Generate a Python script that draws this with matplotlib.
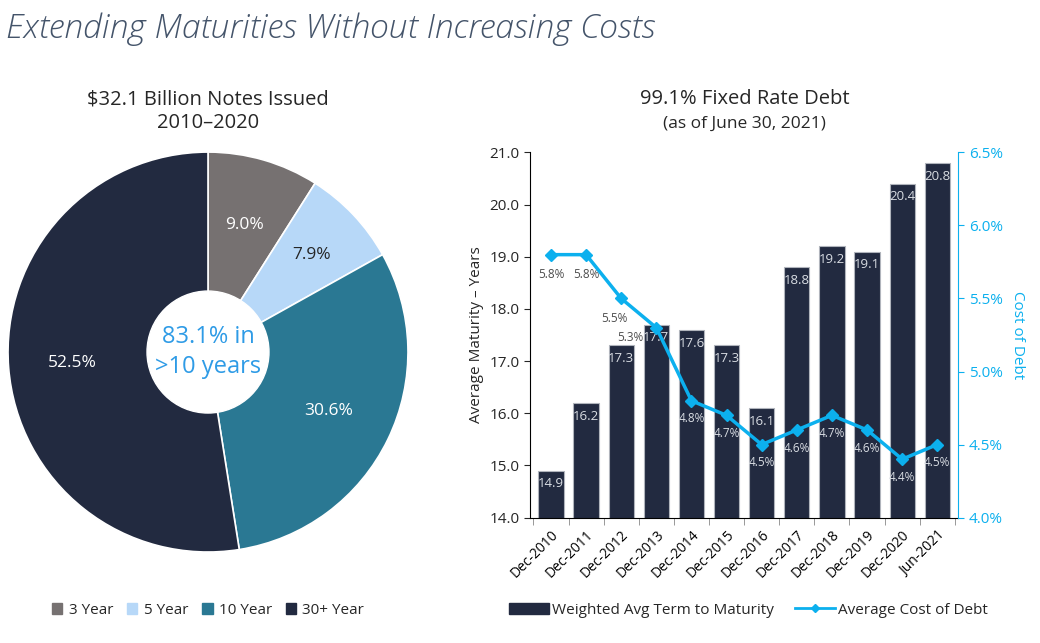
import numpy as np
import matplotlib.pyplot as plt
from matplotlib.patches import Patch, Circle
from matplotlib.lines import Line2D

# pie data
pie_labels = ["3 Year", "5 Year", "10 Year", "30+ Year"]
pie_values = [9.0, 7.9, 30.6, 52.5]
pie_colors = ["#767171", "#b7d8f8", "#2a7893", "#222a40"]

# bar / line data
periods = ["Dec-2010", "Dec-2011", "Dec-2012", "Dec-2013", "Dec-2014", "Dec-2015",
           "Dec-2016", "Dec-2017", "Dec-2018", "Dec-2019", "Dec-2020", "Jun-2021"]
avg_term = [14.9, 16.2, 17.3, 17.7, 17.6, 17.3, 16.1, 18.8, 19.2, 19.1, 20.4, 20.8]
cost_debt = [5.8, 5.8, 5.5, 5.3, 4.8, 4.7, 4.5, 4.6, 4.7, 4.6, 4.4, 4.5]

navy = "#222a40"
cyan = "#0cb0ee"
txt = "#262626"

plt.rcParams['font.family'] = ['Open Sans', 'DejaVu Sans']

fig = plt.figure(figsize=(10.4, 6.43), dpi=100)

fig.text(0.006, 0.98, "Extending Maturities Without Increasing Costs", fontsize=24.3,
         style='italic', color="#44546a", ha='left', va='top', fontweight='light')

# ---- pie ----
axp = fig.add_axes([0.0077, 0.1415, 0.3846, 0.622])
wedges, _ = axp.pie(pie_values, colors=pie_colors, startangle=90, counterclock=False,
                    radius=1.0, wedgeprops=dict(edgecolor='white', linewidth=1.2))
axp.set_xlim(-1, 1)
axp.set_ylim(-1, 1)
lab_r = [0.66, 0.71, 0.67, 0.68]
for w, v, r, c in zip(wedges, pie_values, lab_r, ["white", txt, "white", "white"]):
    ang = np.deg2rad((w.theta1 + w.theta2) / 2)
    axp.text(r * np.cos(ang), r * np.sin(ang), "%.1f%%" % v, ha='center', va='center',
             fontsize=12.5, color=c)
axp.add_patch(Circle((0, 0), 0.305, color='white', zorder=5))
axp.text(0, 0, "83.1% in\n>10 years", ha='center', va='center', fontsize=17,
         color="#2e9be6", zorder=6, linespacing=1.3)
fig.text(0.2, 0.827, "$32.1 Billion Notes Issued\n2010\u20132020", ha='center', va='center',
         fontsize=14.5, color=txt, linespacing=1.2)

fig.legend(handles=[Patch(color=c, label=l) for c, l in zip(pie_colors, pie_labels)],
           loc='center', bbox_to_anchor=(0.2, 0.051), ncol=4, frameon=False, fontsize=11,
           handlelength=0.7, handleheight=0.7, handletextpad=0.4, columnspacing=0.9,
           labelcolor=txt)

# ---- bar + line ----
ax = fig.add_axes([0.5095, 0.195, 0.412, 0.568])
x = np.arange(len(periods))
ax.bar(x, avg_term, width=0.72, color=navy, edgecolor="#b0b4bc", linewidth=0.8, zorder=2)
for xi, v in zip(x, avg_term):
    ax.text(xi, v - 0.13, "%.1f" % v, ha='center', va='top', fontsize=9.5, color="#d9dde3",
            zorder=3)
ax.set_ylim(14, 21)
ax.set_xlim(-0.6, len(periods) - 0.4)
ax.set_yticks(np.arange(14, 21.1, 1))
ax.set_yticklabels(["%.1f" % t for t in np.arange(14, 21.1, 1)])
ax.set_xticks(x)
ax.set_xticklabels(periods, rotation=45, ha='right', rotation_mode='anchor', fontsize=10)
ax.set_xticks(np.arange(-0.5, len(periods), 1), minor=True)
ax.tick_params(axis='x', which='major', length=0, pad=7)
ax.tick_params(axis='x', which='minor', length=5, color='#888888')
ax.tick_params(axis='y', labelsize=11, colors=txt, length=4)
ax.set_ylabel("Average Maturity \u2013 Years", fontsize=11, color=txt, labelpad=4)
for s in ['top', 'right']:
    ax.spines[s].set_visible(False)

ax2 = ax.twinx()
ax2.plot(x, cost_debt, color=cyan, marker='D', markersize=6, linewidth=2.5, zorder=4)
dx_lab = [0, 0, -0.2, -0.75, 0, 0, 0, 0, 0, 0, 0, 0]
dy_lab = [0.09, 0.09, 0.09, 0.02, 0.08, 0.08, 0.08, 0.08, 0.08, 0.08, 0.08, 0.08]
for xi, v, ox, oy in zip(x, cost_debt, dx_lab, dy_lab):
    c = "#4d4d4d" if xi < 4 else "#d9dde3"
    ax2.text(xi + ox, v - oy, "%.1f%%" % v, ha='center', va='top', fontsize=8.5, color=c)
ax2.set_ylim(4.0, 6.5)
ax2.set_yticks(np.arange(4.0, 6.51, 0.5))
ax2.set_yticklabels(["%.1f%%" % t for t in np.arange(4.0, 6.51, 0.5)])
ax2.tick_params(axis='y', labelsize=11, colors=cyan, length=4)
ax2.set_ylabel("Cost of Debt", fontsize=11, color=cyan, rotation=270, labelpad=16)
ax2.spines['right'].set_color(cyan)
for s in ['top', 'left', 'bottom']:
    ax2.spines[s].set_visible(False)

fig.text(0.716, 0.846, "99.1% Fixed Rate Debt", ha='center', va='center', fontsize=14.5, color=txt)
fig.text(0.716, 0.807, "(as of June 30, 2021)", ha='center', va='center', fontsize=12.5, color=txt)

fig.legend(handles=[Patch(color=navy, label="Weighted Avg Term to Maturity"),
                    Line2D([0], [0], color=cyan, marker='D', markersize=4, linewidth=2,
                           label="Average Cost of Debt")],
           loc='center', bbox_to_anchor=(0.72, 0.051), ncol=2, frameon=False, fontsize=11,
           handlelength=2.6, handleheight=0.8, handletextpad=0.2, columnspacing=1.4,
           labelcolor=txt)

fig.savefig("out.png", dpi=100)
